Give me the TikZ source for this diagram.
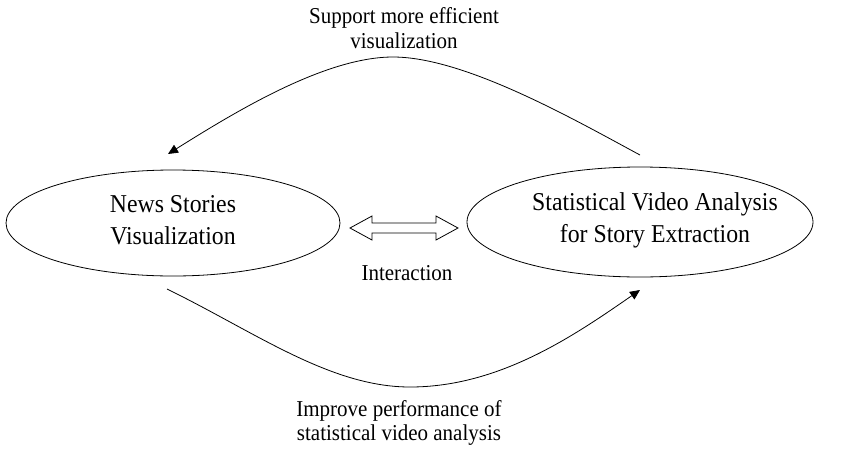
\documentclass[tikz,border=0pt]{standalone}
\usepackage{fontspec}
\setmainfont[FakeStretch=0.925]{Liberation Serif}
\usetikzlibrary{shapes.geometric,arrows.meta}
\begin{document}
\begin{tikzpicture}[x=1pt,y=-1pt,
  oval/.style={draw,ellipse,line width=0.8pt,inner sep=0pt},
  bigtxt/.style={align=center,font=\fontsize{25.7}{32}\selectfont,inner sep=0pt},
  smalltxt/.style={align=center,font=\fontsize{22.7}{24.5}\selectfont,inner sep=0pt},
  link/.style={line width=0.8pt,-{Triangle[length=10pt,width=9pt]}}]
\useasboundingbox (0,0) rectangle (852,456);
\node[oval,minimum width=334pt,minimum height=106pt] (L) at (173,223) {};
\node[oval,minimum width=346pt,minimum height=110pt] (R) at (640,222) {};
\node[bigtxt] (Ltxt) at (173,220) {News Stories\\Visualization};
\node[bigtxt] (Rtxt) at (655,220) {Statistical Video Analysis\\for Story Extraction};
\node[smalltxt] (top) at (404,28) {Support more efficient\\visualization};
\node[smalltxt] (bot) at (399,423) {Improve performance of\\statistical video analysis};
\node[smalltxt,anchor=base] (inter) at (407,280) {Interaction};
\coordinate (ts) at (640,155);
\coordinate (tp) at (393,57);
\coordinate (te) at (168,154);
\coordinate (bs) at (167,289);
\coordinate (bp) at (410,387);
\coordinate (be) at (640,290);
\draw[link] (ts) .. controls (575,120) and (465,57) .. (tp)
  .. controls (325,57) and (235,112) .. (te);
\draw[link] (bs) .. controls (255,332) and (330,387) .. (bp)
  .. controls (500,387) and (575,335) .. (be);
\draw[line width=0.8pt] (350,228) -- (372,216) -- (372,223) -- (436,223) -- (436,216)
  -- (458,228) -- (436,240) -- (436,233) -- (372,233) -- (372,240) -- cycle;
\end{tikzpicture}
\end{document}
